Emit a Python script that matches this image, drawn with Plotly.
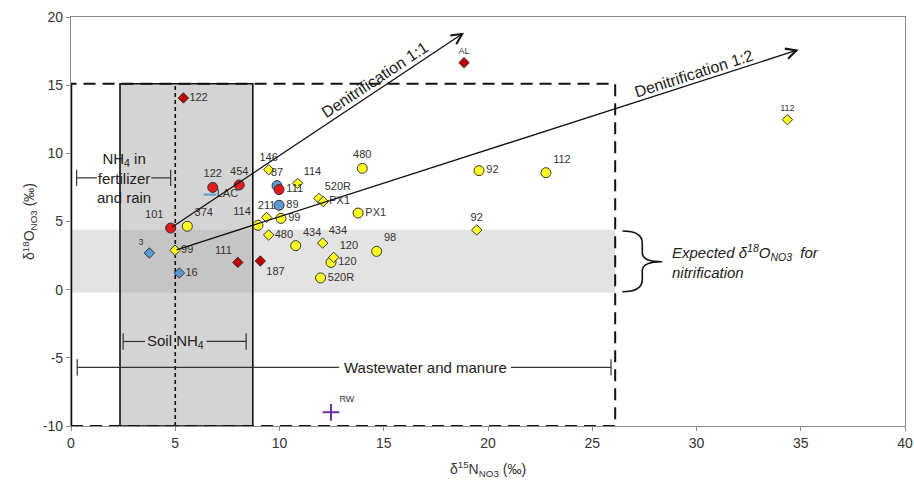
import plotly.graph_objects as go

# ---------------- data ----------------
red_circle_x = [6.8, 8.07, 4.78, 9.98]
red_circle_y = [7.5, 7.68, 4.52, 7.34]
red_circle_lab = ["122", "454", "101", "111"]

red_diamond_x = [5.39, 8.0, 9.08, 18.85]
red_diamond_y = [14.06, 2.0, 2.1, 16.65]
red_diamond_lab = ["122", "111", "187", "AL"]

yellow_circle_x = [5.58, 8.97, 10.07, 10.78, 13.97, 13.77, 12.47, 11.97, 14.66, 19.57, 22.78]
yellow_circle_y = [4.65, 4.72, 5.23, 3.23, 8.9, 5.62, 2.0, 0.86, 2.81, 8.73, 8.58]
yellow_circle_lab = ["374", "114", "99", "434", "480", "PX1", "120", "520R", "98", "92", "112"]

yellow_diamond_x = [4.99, 9.48, 10.87, 9.38, 9.48, 11.88, 12.1, 12.07, 12.6, 19.46, 34.36]
yellow_diamond_y = [2.89, 8.8, 7.8, 5.3, 4.01, 6.7, 6.46, 3.42, 2.37, 4.38, 12.47]
yellow_diamond_lab = ["99", "146", "114", "211", "480", "520R", "PX1", "434", "120", "92", "112"]

blue_circle_x = [9.88, 9.98]
blue_circle_y = [7.63, 6.19]
blue_circle_lab = ["87", "89"]

blue_diamond_x = [3.76, 5.2]
blue_diamond_y = [2.69, 1.22]
blue_diamond_lab = ["3", "16"]

lac_x = [6.67]
lac_y = [6.97]
lac_lab = ["LAC"]

rw_x = [12.47]
rw_y = [-9.0]
rw_lab = ["RW"]

# source ranges
soil_nh4_x = [2.35, 8.72]
wastewater_box_x = [0, 26.1]
source_box_y = [-10, 15.1]
nitrif_band_y = [-0.2, 4.4]

# denitrification vectors (start, end)
denit11_x = [4.78, 18.85]
denit11_y = [4.52, 18.85]
denit12_x = [4.99, 34.9]
denit12_y = [2.89, 17.6]

x_ticks = [0, 5, 10, 15, 20, 25, 30, 35, 40]
y_ticks = [-10, -5, 0, 5, 10, 15, 20]
y_tick_text = ["-10", "-5", "0", "5", "10", "15", "20"]

# ---------------- styling ----------------
FONT = "Arial, Liberation Sans, sans-serif"
TXT = "#333333"

rc_pos = ["top center", "top center", "top left", "middle right"]
rd_pos = ["middle right", "top left", "bottom right", "top center"]
rd_size = [11, 11, 11, 9]
yc_pos = ["top right", "top left", "middle right", "top right", "top center", "middle right",
          "middle right", "middle right", "top right", "middle right", "top right"]
yd_pos = ["middle right", "top center", "top right", "top center", "middle right", "top right",
          "middle right", "top right", "top right", "top center", "top center"]
yd_size = [11, 11, 11, 11, 11, 11, 11, 11, 11, 11, 9]
bc_pos = ["top center", "middle right"]
bd_pos = ["top left", "middle right"]
bd_size = [9, 11]

fig = go.Figure()

def add_pts(x, y, lab, symbol, color, size, pos, tsize=11, lw=1, lcolor="#333333"):
    fig.add_trace(go.Scatter(
        x=x, y=y, mode="markers+text", text=lab, textposition=pos,
        textfont=dict(family=FONT, size=tsize, color=TXT),
        marker=dict(symbol=symbol, color=color, size=size,
                    line=dict(color=lcolor, width=lw)),
        showlegend=False, cliponaxis=False, hoverinfo="skip"))

add_pts(yellow_circle_x, yellow_circle_y, yellow_circle_lab, "circle", "#ffff20", 10, yc_pos)
add_pts(yellow_diamond_x, yellow_diamond_y, yellow_diamond_lab, "diamond", "#ffff20", 8, yd_pos, yd_size)
add_pts(blue_circle_x, blue_circle_y, blue_circle_lab, "circle", "#5b9bd5", 10, bc_pos)
add_pts(blue_diamond_x, blue_diamond_y, blue_diamond_lab, "diamond", "#5b9bd5", 8, bd_pos, bd_size)
add_pts(red_circle_x, red_circle_y, red_circle_lab, "circle", "#e31a1c", 10, rc_pos)
add_pts(red_diamond_x, red_diamond_y, red_diamond_lab, "diamond", "#c00000", 8, rd_pos, rd_size)
add_pts(lac_x, lac_y, lac_lab, "line-ew", "#5b9bd5", 9, ["middle right"], 11, 2, "#5b9bd5")
add_pts(rw_x, rw_y, rw_lab, "cross-thin", "#7030a0", 12, ["top right"], 9, 2, "#7030a0")

shapes = []
shapes.append(dict(type="rect", xref="x", yref="y", layer="below",
                   x0=wastewater_box_x[0], x1=wastewater_box_x[1],
                   y0=nitrif_band_y[0], y1=nitrif_band_y[1],
                   fillcolor="rgba(200,200,200,0.5)", line=dict(width=0)))
shapes.append(dict(type="rect", xref="x", yref="y", layer="below",
                   x0=soil_nh4_x[0], x1=soil_nh4_x[1],
                   y0=source_box_y[0], y1=source_box_y[1],
                   fillcolor="rgba(160,160,160,0.45)", line=dict(color="#111", width=1.6)))
shapes.append(dict(type="rect", xref="x", yref="y", layer="below",
                   x0=wastewater_box_x[0], x1=wastewater_box_x[1],
                   y0=source_box_y[0], y1=source_box_y[1],
                   line=dict(color="#111", width=2, dash="12px,7px")))
shapes.append(dict(type="line", xref="x", yref="y", layer="below",
                   x0=0, x1=0, y0=source_box_y[0], y1=source_box_y[1],
                   line=dict(color="#111", width=2.5)))
shapes.append(dict(type="line", xref="x", yref="y", layer="below",
                   x0=5, x1=5, y0=source_box_y[0], y1=source_box_y[1],
                   line=dict(color="#111", width=1.6, dash="4px,3px")))

def hbar(x0, x1, y, gaps, cap=0.6):
    segs = [x0] + [g for pair in gaps for g in pair] + [x1]
    for i in range(0, len(segs), 2):
        shapes.append(dict(type="line", xref="x", yref="y", x0=segs[i], x1=segs[i + 1],
                           y0=y, y1=y, line=dict(color="#333", width=1.2)))
    for xc in (x0, x1):
        shapes.append(dict(type="line", xref="x", yref="y", x0=xc, x1=xc,
                           y0=y - cap, y1=y + cap, line=dict(color="#333", width=1.2)))

hbar(0.27, 4.78, 8.2, [(1.25, 3.85)])
hbar(2.5, 8.4, -3.8, [(3.55, 6.5)])
hbar(0.3, 25.9, -5.7, [(12.85, 21.1)])

shapes.append(dict(type="path", xref="x", yref="y",
                   path="M 26.45,4.3 Q 27.4,4.3 27.4,3.4 L 27.4,2.7 Q 27.4,2.05 28.35,2.05 "
                        "Q 27.4,2.05 27.4,1.4 L 27.4,0.75 Q 27.4,-0.15 26.45,-0.15",
                   line=dict(color="#111", width=1.6)))

annotations = []
for xs, ys in ((denit11_x, denit11_y), (denit12_x, denit12_y)):
    annotations.append(dict(x=xs[1], y=ys[1], ax=xs[0], ay=ys[0], xref="x", yref="y",
                            axref="x", ayref="y", text="", showarrow=True,
                            arrowhead=5, arrowsize=1.6, arrowwidth=1.3, arrowcolor="#111"))

annotations += [
    dict(x=14.6, y=15.4, text="Denitrification 1:1", textangle=-33.5, showarrow=False,
         font=dict(family=FONT, size=16, color="#222")),
    dict(x=29.9, y=15.85, text="Denitrification 1:2", textangle=-17.8, showarrow=False,
         font=dict(family=FONT, size=16, color="#222")),
    dict(x=2.55, y=8.2, text="NH<sub>4</sub> in<br>fertilizer<br>and rain", showarrow=False,
         font=dict(family=FONT, size=15, color="#222")),
    dict(x=5.0, y=-3.8, text="Soil NH<sub>4</sub>", showarrow=False,
         font=dict(family=FONT, size=15, color="#222")),
    dict(x=17.0, y=-5.7, text="Wastewater and manure", showarrow=False,
         font=dict(family=FONT, size=15, color="#222")),
    dict(x=28.75, y=2.1, xanchor="left", align="left", showarrow=False,
         text="<i>Expected δ<sup>18</sup>O<sub>NO3</sub>  for<br>nitrification</i>",
         font=dict(family=FONT, size=15, color="#222")),
]

fig.update_layout(
    width=914, height=490,
    margin=dict(l=71, r=9, t=17, b=64),
    plot_bgcolor="white", paper_bgcolor="white",
    shapes=shapes, annotations=annotations,
    xaxis=dict(range=[0, 40], tickvals=x_ticks, showgrid=False, zeroline=False,
               automargin=False, ticklabeloverflow="allow",
               showline=True, linecolor="#8a8a8a", linewidth=1.2, mirror=True,
               ticks="outside", ticklen=4, tickcolor="#8a8a8a",
               tickfont=dict(family=FONT, size=14, color=TXT),
               title=dict(text="δ<sup>15</sup>N<sub>NO3</sub> (‰)", standoff=14,
                          font=dict(family=FONT, size=14, color=TXT))),
    yaxis=dict(range=[-10, 20], tickvals=y_ticks, ticktext=y_tick_text,
               showgrid=False, zeroline=False, automargin=False,
               showline=True, linecolor="#8a8a8a", linewidth=1.2, mirror=True,
               ticks="outside", ticklen=4, tickcolor="#8a8a8a",
               tickfont=dict(family=FONT, size=14, color=TXT),
               title=dict(text="δ<sup>18</sup>O<sub>NO3</sub> (‰)", standoff=4,
                          font=dict(family=FONT, size=14, color=TXT))),
)

# remove the default page margin so the 914x490 figure fills the window exactly
fig.write_html("out.html", config={"displayModeBar": False},
               post_script="document.body.style.margin='0';document.body.style.overflow='hidden';")
